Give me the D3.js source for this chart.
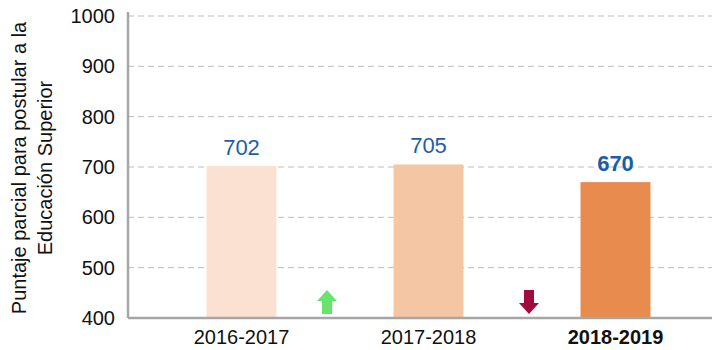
<!DOCTYPE html>
<html>
<head>
<meta charset="utf-8">
<script src="https://cdn.jsdelivr.net/npm/d3@7/dist/d3.min.js"></script>
<style>
  html, body { margin: 0; padding: 0; background: #ffffff; }
  svg { display: block; font-family: "Liberation Sans", Arial, sans-serif; }
</style>
</head>
<body>
<svg id="chart" width="714" height="350"></svg>
<script>
// Puntaje parcial por año académico
const categories = ["2016-2017", "2017-2018", "2018-2019"];
const scores = [702, 705, 670];
const barColors = ["#fae1d2", "#f5c6a3", "#e88b4e"];
const highlighted = ["2018-2019"];
const yTicks = [400, 500, 600, 700, 800, 900, 1000];
const yTitleLines = ["Puntaje parcial para postular a la", "Educación Superior"];
// Variation between consecutive years: "up" / "down"
const trendFrom = ["2016-2017", "2017-2018"];
const trendTo = ["2017-2018", "2018-2019"];
const trendDir = ["up", "down"];

const svg = d3.select("#chart");
const plotLeft = 128, plotRight = 712, plotTop = 16, plotBottom = 318;

const x = d3.scaleBand()
  .domain(categories)
  .range([148, 709])
  .paddingInner(0.626)
  .paddingOuter(0.313);

const y = d3.scaleLinear().domain([400, 1000]).range([plotBottom, plotTop]);

// Dashed horizontal grid
svg.append("g")
  .selectAll("line")
  .data(yTicks.filter(d => d > 400))
  .join("line")
  .attr("x1", plotLeft).attr("x2", plotRight)
  .attr("y1", d => y(d)).attr("y2", d => y(d))
  .attr("stroke", "#bdbdbd")
  .attr("stroke-width", 1)
  .attr("stroke-dasharray", "6,4");

// Y axis with labels
const yAxis = svg.append("g")
  .attr("transform", `translate(${plotLeft},0)`)
  .call(d3.axisLeft(y).tickValues(yTicks).tickSize(0).tickPadding(13).tickFormat(d3.format("d")));
yAxis.select(".domain").attr("stroke", "#a6a6a6").attr("stroke-width", 2.5)
  .attr("d", `M0,${plotTop - 4}V${plotBottom}`);
yAxis.selectAll("text")
  .attr("font-size", 20)
  .attr("fill", "#111")
  .attr("font-family", "Liberation Sans, Arial, sans-serif");

// Bars
svg.append("g")
  .selectAll("rect")
  .data(categories)
  .join("rect")
  .attr("x", d => x(d))
  .attr("width", x.bandwidth())
  .attr("y", (d, i) => y(scores[i]))
  .attr("height", (d, i) => y(400) - y(scores[i]))
  .attr("fill", (d, i) => barColors[i]);

// Value labels
svg.append("g")
  .selectAll("text")
  .data(categories)
  .join("text")
  .attr("x", d => x(d) + x.bandwidth() / 2)
  .attr("y", (d, i) => y(scores[i]) - 11)
  .attr("text-anchor", "middle")
  .attr("font-size", 22)
  .attr("font-weight", d => highlighted.includes(d) ? "bold" : "normal")
  .attr("fill", "#1a5ea8")
  .text((d, i) => scores[i]);

// X axis baseline and category labels
const xAxis = svg.append("g")
  .attr("transform", `translate(0,${plotBottom})`)
  .call(d3.axisBottom(x).tickSize(0).tickPadding(12));
xAxis.select(".domain").attr("stroke", "#a6a6a6").attr("stroke-width", 2.5)
  .attr("d", `M${plotLeft},0H${plotRight}`);
xAxis.selectAll("text")
  .attr("font-size", 20)
  .attr("fill", "#111")
  .attr("font-family", "Liberation Sans, Arial, sans-serif")
  .attr("font-weight", d => highlighted.includes(d) ? "bold" : "normal");

// Trend arrows between consecutive years
const arrowPath = {
  up: "M0,-12L10,-1L5,-1L5,12L-5,12L-5,-1L-10,-1Z",
  down: "M0,12L10,1L5,1L5,-12L-5,-12L-5,1L-10,1Z"
};
const arrowColor = { up: "#66e46c", down: "#a10a3a" };
svg.append("g")
  .selectAll("path")
  .data(trendDir)
  .join("path")
  .attr("transform", (d, i) => {
    const cx = (x(trendFrom[i]) + x.bandwidth() + x(trendTo[i])) / 2 + (d === "up" ? -8 : 7);
    return `translate(${cx},${plotBottom - 16})`;
  })
  .attr("d", d => arrowPath[d])
  .attr("fill", d => arrowColor[d]);

// Rotated Y title
const title = svg.append("text")
  .attr("transform", "translate(0,168) rotate(-90)")
  .attr("text-anchor", "middle")
  .attr("font-size", 20)
  .attr("fill", "#111");
title.selectAll("tspan")
  .data(yTitleLines)
  .join("tspan")
  .attr("x", 0)
  .attr("y", (d, i) => 26 + i * 26)
  .text(d => d);
</script>
</body>
</html>
